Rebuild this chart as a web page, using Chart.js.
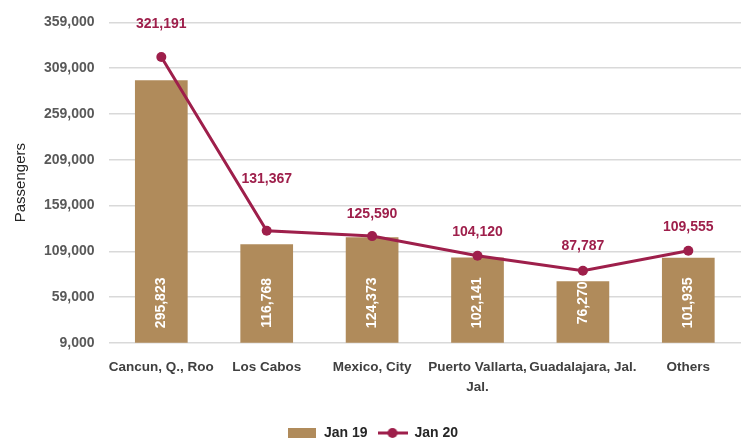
<!DOCTYPE html>
<html>
<head>
<meta charset="utf-8">
<script src="https://cdn.jsdelivr.net/npm/chart.js@4/dist/chart.umd.min.js"></script>
<style>
  html, body { margin: 0; padding: 0; background: #ffffff; }
  #wrap { width: 746px; height: 442px; position: relative; }
</style>
</head>
<body>
<div id="wrap"><canvas id="c" width="746" height="442"></canvas></div>
<script>
const categories = [["Cancun, Q., Roo"], ["Los Cabos"], ["Mexico, City"], ["Puerto Vallarta,", "Jal."], ["Guadalajara, Jal."], ["Others"]];
const jan19 = [295823, 116768, 124373, 102141, 76270, 101935];
const jan20 = [321191, 131367, 125590, 104120, 87787, 109555];
const yTicks = [9000, 59000, 109000, 159000, 209000, 259000, 309000, 359000];

const BAR = '#b08b5b';
const LINE = '#9e1f4b';
const FONT = "'Liberation Sans', Arial, sans-serif";
const fmt = v => v.toLocaleString('en-US');

function makeBox() {
  const c = document.createElement('canvas');
  c.width = 28; c.height = 10;
  const x = c.getContext('2d');
  x.fillStyle = BAR; x.fillRect(0, 0, 28, 10);
  return c;
}
function makeLineDot() {
  const c = document.createElement('canvas');
  c.width = 30; c.height = 12;
  const x = c.getContext('2d');
  x.strokeStyle = LINE; x.lineWidth = 3;
  x.beginPath(); x.moveTo(0, 6); x.lineTo(30, 6); x.stroke();
  x.fillStyle = LINE; x.beginPath(); x.arc(15, 6, 5, 0, Math.PI * 2); x.fill();
  return c;
}

const legendShift = {
  id: 'legendShift',
  afterLayout(chart, args, opts) {
    if (chart.legend) {
      chart.legend.top += opts.dy;
      chart.legend.bottom += opts.dy;
    }
  }
};

const labelPlugin = {
  id: 'valueLabels',
  afterDatasetsDraw(chart, args, opts) {
    const ctx = chart.ctx;
    const yScale = chart.scales.y;
    const barMeta = chart.getDatasetMeta(0);
    ctx.save();
    ctx.fillStyle = '#ffffff';
    ctx.font = "bold 14px " + FONT;
    ctx.textAlign = 'center';
    ctx.textBaseline = 'middle';
    const base = yScale.getPixelForValue(yScale.min);
    barMeta.data.forEach((el, i) => {
      ctx.save();
      ctx.translate(el.x, base - 40);
      ctx.rotate(-Math.PI / 2);
      ctx.fillText(fmt(jan19[i]), 0, 0);
      ctx.restore();
    });
    ctx.restore();
    const lineMeta = chart.getDatasetMeta(1);
    ctx.save();
    ctx.fillStyle = LINE;
    ctx.font = "bold 14px " + FONT;
    ctx.textAlign = 'center';
    ctx.textBaseline = 'middle';
    lineMeta.data.forEach((el, i) => {
      ctx.fillText(fmt(jan20[i]), el.x, el.y - opts.offsets[i]);
    });
    ctx.restore();
  }
};

new Chart(document.getElementById('c'), {
  data: {
    labels: categories,
    datasets: [
      {
        type: 'bar', label: 'Jan 19', data: jan19,
        backgroundColor: BAR, barPercentage: 0.5, categoryPercentage: 1.0,
        order: 2
      },
      {
        type: 'line', label: 'Jan 20', data: jan20,
        borderColor: LINE, backgroundColor: LINE, borderWidth: 3,
        pointRadius: 5, pointHoverRadius: 5, pointBackgroundColor: LINE,
        pointBorderWidth: 0, tension: 0, order: 1
      }
    ]
  },
  options: {
    responsive: false,
    animation: false,
    layout: { padding: { left: 4, right: 5, top: 20, bottom: 0 } },
    plugins: {
      tooltip: { enabled: false },
      valueLabels: { offsets: [33, 52, 22, 24, 25, 24] },
      legendShift: { dy: 8 },
      legend: {
        position: 'bottom',
        labels: {
          usePointStyle: true,
          pointStyleWidth: 30,
          color: '#262626',
          font: { family: FONT, size: 14, weight: 'bold' },
          padding: 10,
          boxHeight: 12,
          sort: (a, b) => a.datasetIndex - b.datasetIndex,
          generateLabels(chart) {
            const items = Chart.defaults.plugins.legend.labels.generateLabels(chart);
            items.forEach(it => {
              it.pointStyle = it.datasetIndex === 0 ? makeBox() : makeLineDot();
            });
            return items;
          }
        }
      }
    },
    scales: {
      x: {
        grid: { display: false },
        border: { display: false },
        afterFit(scale) { scale.height += 4; },
        ticks: {
          color: '#404040',
          font: { family: FONT, size: 13.5, weight: 'bold', lineHeight: 1.45 },
          maxRotation: 0, autoSkip: false, padding: 7
        }
      },
      y: {
        min: 9000, max: 359000,
        afterBuildTicks(scale) { scale.ticks = yTicks.map(v => ({ value: v })); },
        grid: { color: '#d9d9d9', lineWidth: 1.5, drawTicks: false },
        border: { display: false },
        ticks: {
          color: '#595959',
          font: { family: FONT, size: 14, weight: 'bold' },
          padding: 14,
          callback: v => fmt(v)
        },
        title: {
          display: true, text: 'Passengers', color: '#262626',
          font: { family: FONT, size: 15 }, padding: { top: 8, bottom: 0 }
        }
      }
    }
  },
  plugins: [legendShift, labelPlugin]
});
</script>
</body>
</html>
